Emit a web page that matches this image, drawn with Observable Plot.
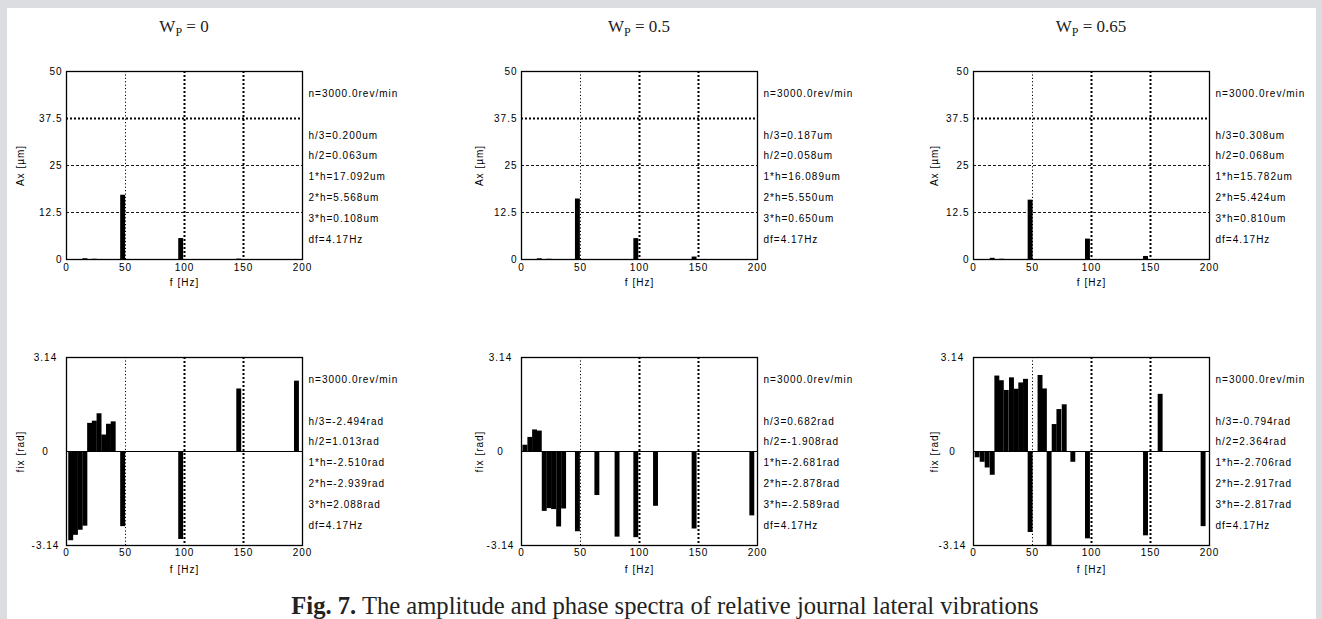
<!DOCTYPE html>
<html><head><meta charset="utf-8">
<script src="https://cdn.jsdelivr.net/npm/d3@7"></script>
<script src="https://cdn.jsdelivr.net/npm/@observablehq/plot@0.6"></script>
<style>
html,body{margin:0;padding:0;overflow:hidden;background:#fff;}
#page{position:relative;width:1322px;height:619px;background:#dcdde0;overflow:hidden;}
#sheet{position:absolute;left:7px;top:8px;width:1309px;height:611px;background:#fff;}
.panel{position:absolute;}
#overlay{position:absolute;left:0;top:0;}
</style>
</head><body>
<div id="page"><div id="sheet"></div></div>
<script>
// ---------- data ----------
const weights = ["0", "0.5", "0.65"];
const xTicks = [0, 50, 100, 150, 200];
const ampTicks = [0, 12.5, 25, 37.5, 50];
const phaseTicks = [-3.14, 0, 3.14];
const harmNames = ["h/3", "h/2", "1*h", "2*h", "3*h"];
const speedText = "n=3000.0rev/min";
const dfText = "df=4.17Hz";
const df = 4.17;
const captionBold = "Fig. 7.";
const captionText = " The amplitude and phase spectra of relative journal lateral vibrations";

// amplitude spectra (bin centre [Hz], amplitude [um])
const ampF_W0   = [16.0, 24.0, 48.0, 97.2, 146.4];
const ampA_W0   = [0.200, 0.063, 17.092, 5.568, 0.108];
const ampF_W05  = [15.5, 23.7, 47.8, 97.3, 146.7];
const ampA_W05  = [0.187, 0.058, 16.089, 5.550, 0.650];
const ampF_W065 = [16.3, 24.0, 48.4, 97.0, 146.2];
const ampA_W065 = [0.308, 0.068, 15.782, 5.424, 0.810];

// phase spectra (bin centre [Hz], phase [rad])
const phF_W0 = [4, 8, 12, 16, 20, 24, 28, 32, 36, 40, 48, 97.2, 146.4, 195.3];
const phV_W0 = [-2.98, -2.80, -2.63, -2.494, 0.94, 1.013, 1.26, 0.55, 0.91, 0.99, -2.510, -2.939, 2.088, 2.35];
const phH_W0 = [-2.494, 1.013, -2.510, -2.939, 2.088];

const phF_W05 = [3.3, 7.5, 11.5, 15.5, 19.7, 23.7, 27.6, 31.9, 36.1, 47.8, 64.3, 81.4, 97.3, 114.0, 146.7, 195.6];
const phV_W05 = [0.21, 0.47, 0.72, 0.682, -2.00, -1.908, -1.94, -2.52, -1.92, -2.681, -1.47, -2.86, -2.878, -1.83, -2.589, -2.15];
const phH_W05 = [0.682, -1.908, -2.681, -2.878, -2.589];

const phF_W065 = [3.5, 7.8, 12.0, 16.3, 20.2, 24.0, 28.2, 32.6, 36.7, 40.5, 44.5, 48.4, 56.8, 60.5, 64.5, 68.8, 72.8, 77.3, 84.6, 97.0, 146.2, 158.6, 195.0];
const phV_W065 = [-0.21, -0.36, -0.55, -0.794, 2.52, 2.364, 2.04, 2.46, 2.08, 2.29, 2.41, -2.706, 2.54, 2.09, -3.14, 0.90, 1.40, 1.56, -0.36, -2.917, -2.817, 1.91, -2.51];
const phH_W065 = [-0.794, 2.364, -2.706, -2.917, -2.817];

// ---------- layout ----------
const colLeft = [0, 455, 907];
const rowTop = [50, 336];
const PW = 412, PH = 249, ML = 66, MR = 110, MT = 21, MB = 40;
const yLabelOffset = [45, 41, 38];

const panels = [
  {col: 0, row: 0, f: ampF_W0,   v: ampA_W0,   h: ampA_W0,   unit: "um"},
  {col: 1, row: 0, f: ampF_W05,  v: ampA_W05,  h: ampA_W05,  unit: "um"},
  {col: 2, row: 0, f: ampF_W065, v: ampA_W065, h: ampA_W065, unit: "um"},
  {col: 0, row: 1, f: phF_W0,    v: phV_W0,    h: phH_W0,    unit: "rad"},
  {col: 1, row: 1, f: phF_W05,   v: phV_W05,   h: phH_W05,   unit: "rad"},
  {col: 2, row: 1, f: phF_W065,  v: phV_W065,  h: phH_W065,  unit: "rad"}
];

const sheet = document.getElementById("page");

for (const p of panels) {
  const amp = p.row === 0;
  const rows = p.f.map((f, i) => ({f, v: p.v[i]}));
  const lines = [speedText, ...p.h.map((v, i) => `${harmNames[i]}=${v.toFixed(3)}${p.unit}`), dfText];
  const dot = {stroke: "#000", strokeOpacity: 1, strokeDasharray: "1.2,2.2", strokeWidth: 1};
  const bold = {stroke: "#000", strokeOpacity: 1, strokeDasharray: "2,2", strokeWidth: 2};
  const marks = [
    Plot.gridX([xTicks[1]], dot),
    Plot.gridX(xTicks.slice(2, 4), bold)
  ];
  if (amp) {
    marks.push(Plot.gridY(ampTicks.slice(1, 3), {stroke: "#000", strokeOpacity: 0.9, strokeDasharray: "3,2", strokeWidth: 1}));
    marks.push(Plot.gridY([ampTicks[3]], bold));
  }
  marks.push(
    Plot.rect(rows, {x1: d => d.f - df / 2, x2: d => d.f + df / 2, y1: 0, y2: "v", fill: "#000", clip: true})
  );
  if (!amp) marks.push(Plot.ruleY([0], {stroke: "#000", strokeWidth: 1}));
  marks.push(
    Plot.frame({stroke: "#000", strokeWidth: 1.3}),
    Plot.axisX(xTicks, {tickSize: 0, tickPadding: amp ? 4 : 3, label: "f [Hz]", labelAnchor: "center", labelArrow: "none", labelOffset: amp ? 26 : 27, fontSize: 10}),
    amp
      ? Plot.axisY(ampTicks, {tickSize: 0, tickPadding: 4, tickFormat: d => String(d), label: "Ax [µm]", labelAnchor: "center", labelArrow: "none", labelOffset: yLabelOffset[p.col] + 5})
      : Plot.axisY(phaseTicks, {tickSize: 0, tickPadding: 21, textAnchor: "middle", tickFormat: d => d === 0 ? "0" : d.toFixed(2), label: "fix [rad]", labelAnchor: "center", labelArrow: "none", labelOffset: yLabelOffset[p.col] + 5}),
    ...lines.map((s, i) => Plot.text([s], {
      frameAnchor: "top-right", textAnchor: "start", lineAnchor: "middle",
      dx: 6, dy: 22 + 20.9 * (i + (i > 0 ? 1 : 0)), fill: "#000",
      style: {letterSpacing: "1.5px"}
    }))
  );
  const svg = Plot.plot({
    width: PW, height: PH,
    marginLeft: ML, marginRight: MR, marginTop: MT, marginBottom: MB,
    style: {fontFamily: "'Liberation Sans', Arial, sans-serif", fontSize: "10px", color: "#000", background: "transparent", overflow: "visible", letterSpacing: "1px"},
    x: {domain: [0, 200]},
    y: {domain: amp ? [0, 50] : [-3.14, 3.14]},
    marks
  });
  svg.classList.add("panel");
  svg.style.left = colLeft[p.col] + "px";
  svg.style.top = rowTop[p.row] + "px";
  svg.style.position = "absolute";
  sheet.appendChild(svg);
}

// titles and caption
const ns = "http://www.w3.org/2000/svg";
const ov = document.createElementNS(ns, "svg");
ov.setAttribute("id", "overlay");
ov.setAttribute("width", 1322);
ov.setAttribute("height", 619);
ov.style.position = "absolute";
ov.style.left = "0px"; ov.style.top = "0px";
weights.forEach((w, i) => {
  const t = document.createElementNS(ns, "text");
  t.setAttribute("x", colLeft[i] + ML + (PW - ML - MR) / 2);
  t.setAttribute("y", 32);
  t.setAttribute("text-anchor", "middle");
  t.setAttribute("font-family", "'Liberation Serif', 'Times New Roman', serif");
  t.setAttribute("font-size", 17);
  t.setAttribute("fill", "#222");
  const a = document.createElementNS(ns, "tspan"); a.textContent = "W";
  const b = document.createElementNS(ns, "tspan"); b.textContent = "P"; b.setAttribute("font-size", 12); b.setAttribute("dy", 3.5);
  const c = document.createElementNS(ns, "tspan"); c.textContent = " = " + w; c.setAttribute("dy", -3.5);
  t.append(a, b, c);
  ov.appendChild(t);
});
const cap = document.createElementNS(ns, "text");
cap.setAttribute("x", 665);
cap.setAttribute("y", 614);
cap.setAttribute("text-anchor", "middle");
cap.setAttribute("font-family", "'Liberation Serif', 'Times New Roman', serif");
cap.setAttribute("font-size", 24.6);
cap.setAttribute("fill", "#222");
const cb = document.createElementNS(ns, "tspan"); cb.setAttribute("font-weight", "bold"); cb.textContent = captionBold;
const cr = document.createElementNS(ns, "tspan"); cr.textContent = captionText;
cap.append(cb, cr);
ov.appendChild(cap);
sheet.appendChild(ov);
</script>
</body></html>
